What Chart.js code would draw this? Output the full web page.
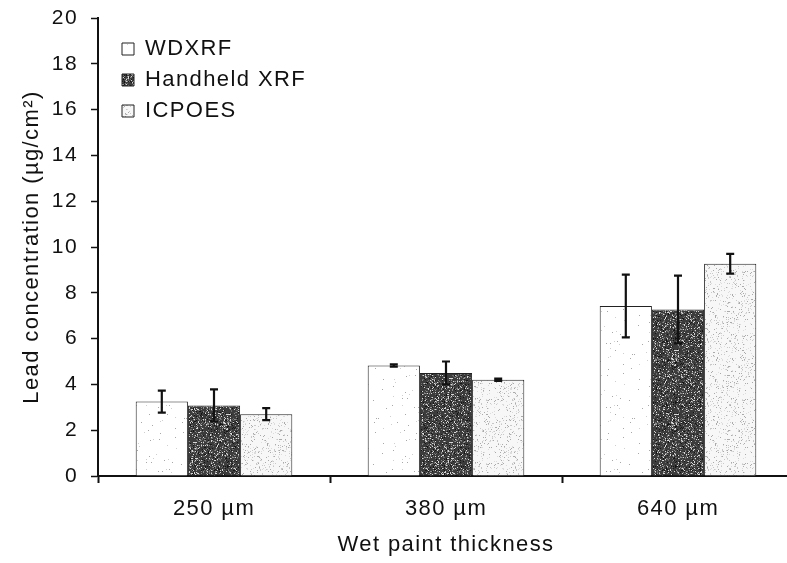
<!DOCTYPE html>
<html>
<head>
<meta charset="utf-8">
<script src="https://cdn.jsdelivr.net/npm/chart.js@4.4.0/dist/chart.umd.min.js"></script>
<style>
  html, body { margin: 0; padding: 0; background: #fff; overflow: hidden; }
  /* plot runs a little past the right edge of the window */
  #wrap { width: 794px; height: 563px; }
</style>
</head>
<body>
<div id="wrap"><canvas id="leadChart"></canvas></div>
<script>
const thickness = ["250 µm", "380 µm", "640 µm"];
const seriesNames = ["WDXRF", "Handheld XRF", "ICPOES"];
const wdxrf = [3.25, 4.83, 7.42];
const wdxrfErr = [0.48, 0.05, 1.37];
const handheld = [3.08, 4.5, 7.27];
const handheldErr = [0.7, 0.5, 1.48];
const icpoes = [2.7, 4.2, 9.27];
const icpoesErr = [0.26, 0.05, 0.43];

// speckled fill, deterministic so every render looks the same
function speckle(base, dots, density, seed) {
  const n = 64;
  const c = document.createElement("canvas");
  c.width = n; c.height = n;
  const g = c.getContext("2d");
  g.fillStyle = base;
  g.fillRect(0, 0, n, n);
  let s = seed;
  const next = () => { s = (s * 1103515245 + 12345) & 0x7fffffff; return s >> 16; };
  for (let i = 0; i < n * n * density; i++) {
    const x = next() % n, y = next() % n;
    g.fillStyle = dots[next() % dots.length];
    g.fillRect(x, y, 1, 1);
  }
  return g.createPattern(c, "repeat");
}

const fills = [
  speckle("#ffffff", ["#d0d0d0", "#a8a8a8"], 0.012, 7),
  speckle("#3c3c3c", ["#6a6a6a", "#8c8c8c", "#d8d8d8", "#151515"], 0.4, 11),
  speckle("#f7f7f7", ["#c8c8c8", "#dcdcdc", "#aaaaaa"], 0.13, 3)
];

const errorBars = {
  id: "errorBars",
  afterDatasetsDraw(chart) {
    const ctx = chart.ctx;
    const y = chart.scales.y;
    ctx.save();
    ctx.strokeStyle = "#111";
    ctx.lineWidth = 2.2;
    chart.data.datasets.forEach((ds, i) => {
      const meta = chart.getDatasetMeta(i);
      meta.data.forEach((bar, j) => {
        const v = ds.data[j], e = ds.errors[j];
        const top = y.getPixelForValue(v + e);
        const bot = y.getPixelForValue(v - e);
        ctx.beginPath();
        ctx.moveTo(bar.x, top); ctx.lineTo(bar.x, bot);
        ctx.moveTo(bar.x - 4, top); ctx.lineTo(bar.x + 4, top);
        ctx.moveTo(bar.x - 4, bot); ctx.lineTo(bar.x + 4, bot);
        ctx.stroke();
      });
    });
    ctx.restore();
  }
};

// pin the plot top, and put the legend just inside its top-left corner
const PLOT_TOP = 18;
const placement = {
  id: "placement",
  afterLayout(chart) {
    const y = chart.scales.y;
    const d = y.top - PLOT_TOP;
    y.top = PLOT_TOP; y.height += d;
    chart.chartArea.top = PLOT_TOP; chart.chartArea.height += d;
    y.configure();

    const lg = chart.legend;
    const dx = 113 - lg.left, dy = 29 - lg.top;
    lg.left += dx; lg.right += dx;
    lg.top += dy; lg.bottom += dy;
  }
};

// slightly loose lettering
const spacing = {
  id: "spacing",
  beforeDraw(chart) { chart.ctx.letterSpacing = "1.4px"; },
  afterDraw(chart) { chart.ctx.letterSpacing = "0px"; }
};

const font = "'Liberation Sans', Arial, sans-serif";

new Chart(document.getElementById("leadChart"), {
  type: "bar",
  data: {
    labels: thickness,
    datasets: [
      { label: seriesNames[0], data: wdxrf, errors: wdxrfErr, backgroundColor: fills[0] },
      { label: seriesNames[1], data: handheld, errors: handheldErr, backgroundColor: fills[1] },
      { label: seriesNames[2], data: icpoes, errors: icpoesErr, backgroundColor: fills[2] }
    ].map(d => Object.assign(d, {
      borderColor: "#222", borderWidth: 1,
      categoryPercentage: 0.675, barPercentage: 1
    }))
  },
  options: {
    responsive: true,
    maintainAspectRatio: false,
    animation: false,
    layout: { autoPadding: false, padding: { top: 18, right: 0, left: 0, bottom: 0 } },
    plugins: {
      tooltip: { enabled: false },
      legend: {
        position: "chartArea",
        align: "start",
        labels: {
          color: "#111",
          font: { family: font, size: 22 },
          boxWidth: 12, boxHeight: 12,
          padding: 9
        }
      }
    },
    scales: {
      x: {
        afterFit(s) { s.height = 87; },
        border: { color: "#111", width: 2 },
        grid: { drawOnChartArea: false, tickLength: 7, tickColor: "#111", tickWidth: 2 },
        ticks: { color: "#111", font: { family: font, size: 22 }, padding: 13 },
        title: {
          display: true, text: "Wet paint thickness", color: "#111",
          font: { family: font, size: 22 }, padding: { top: 4, bottom: 5 }
        }
      },
      y: {
        min: 0, max: 20,
        afterFit(s) { s.width = 98; },
        border: { color: "#111", width: 2 },
        grid: { drawOnChartArea: false, tickLength: 7, tickColor: "#111", tickWidth: 1.5 },
        ticks: { stepSize: 2, color: "#111", font: { family: font, size: 21 }, padding: 13 },
        title: {
          display: true, text: "Lead concentration (µg/cm²)", color: "#111",
          font: { family: font, size: 22 }, padding: { top: 19, bottom: 0 }
        }
      }
    }
  },
  plugins: [errorBars, placement, spacing]
});
</script>
</body>
</html>
